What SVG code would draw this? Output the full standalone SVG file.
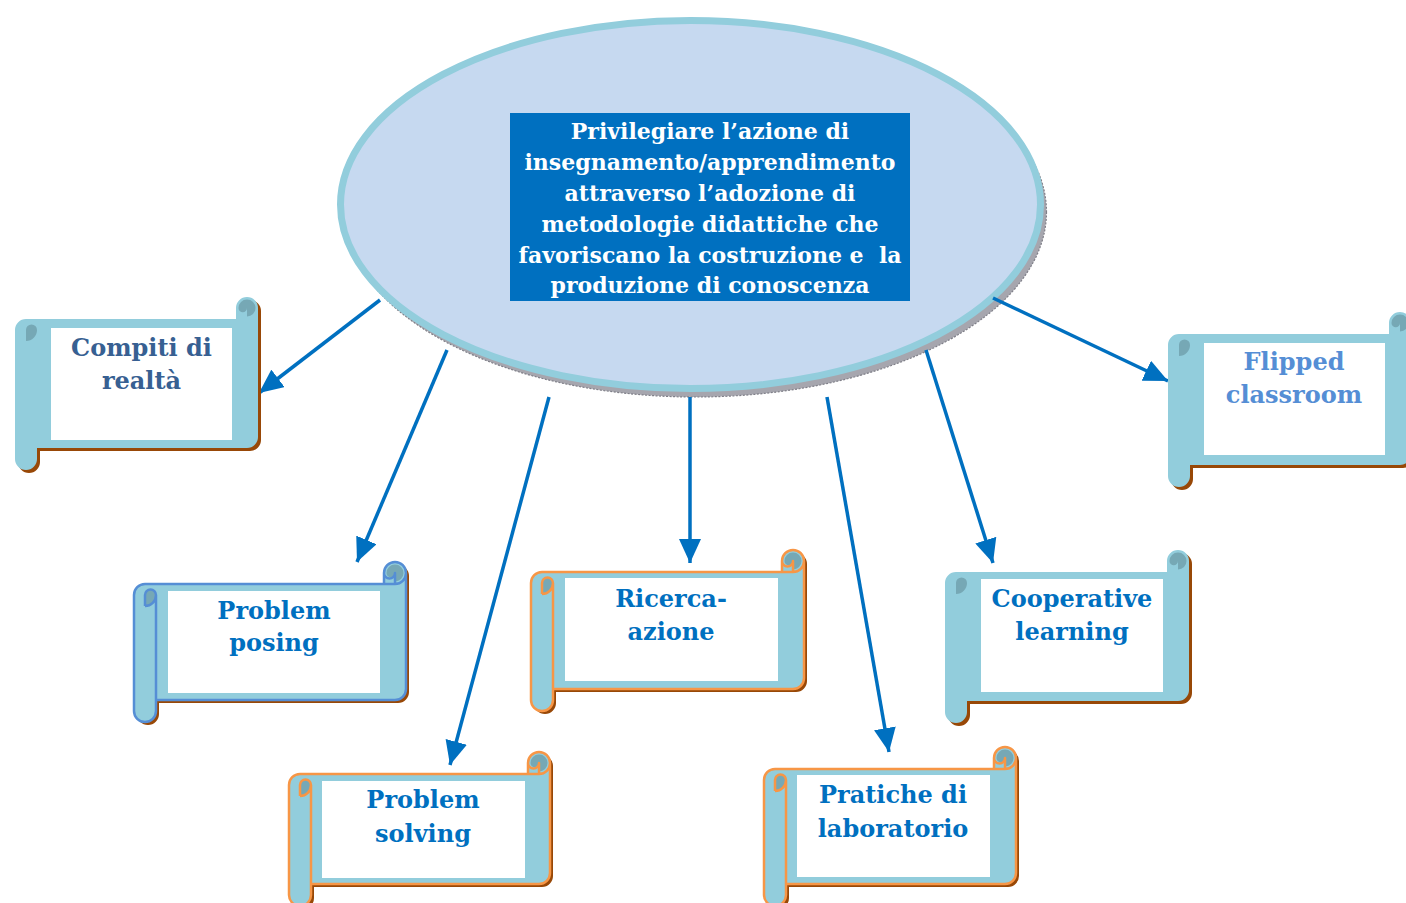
<svg xmlns="http://www.w3.org/2000/svg" width="1406" height="903" viewBox="0 0 1406 903">
<defs>
<style>
.sh{fill:#984807}
.body{fill:#92CDDC}
.dark{fill:#76A8B5}
.ob{fill:none;stroke:#558ED5;stroke-width:2.5;stroke-linejoin:round}
.oo{fill:none;stroke:#F79646;stroke-width:2.5;stroke-linejoin:round}
.inner{fill:#FFFFFF}
.lbl{font-family:"DejaVu Serif","Liberation Serif",serif;font-weight:bold;font-size:24px;text-anchor:middle;fill:#0070C0}
.main{font-family:"DejaVu Serif","Liberation Serif",serif;font-weight:bold;font-size:22px;text-anchor:middle;fill:#FFFFFF;white-space:pre}
.arr{stroke:#0070C0;stroke-width:3.5;fill:none;marker-end:url(#ah)}
</style>
<marker id="ah" viewBox="0 0 24 22" refX="24" refY="11" markerWidth="24" markerHeight="22" markerUnits="userSpaceOnUse" orient="auto">
<path d="M0,0 L24,11 L0,22 Z" fill="#0070C0"/>
</marker>
</defs>
<rect width="1406" height="903" fill="#FFFFFF"/>

<g id="center">
<ellipse cx="695.5" cy="212" rx="351" ry="185" fill="#A6A6AE" stroke="#7F7F88" stroke-width="1.2" stroke-dasharray="2 1.5"/>
<ellipse cx="690.5" cy="204.5" rx="350" ry="184" fill="#C6D9F0" stroke="#92CDDC" stroke-width="7"/>
<rect x="510" y="113" width="400" height="188" fill="#0070C0"/>
<text class="main" x="710" y="139">Privilegiare l’azione di</text>
<text class="main" x="710" y="170">insegnamento/apprendimento</text>
<text class="main" x="710" y="201">attraverso l’adozione di</text>
<text class="main" x="710" y="232">metodologie didattiche che</text>
<text class="main" x="710" y="263" xml:space="preserve">favoriscano la costruzione e  la</text>
<text class="main" x="710" y="293">produzione di conoscenza</text>
</g>

<g id="connectors">
<line class="arr" x1="380" y1="300" x2="259" y2="393"/>
<line class="arr" x1="447" y1="350" x2="357" y2="562"/>
<line class="arr" x1="549" y1="397" x2="450" y2="765"/>
<line class="arr" x1="690" y1="397" x2="690" y2="563"/>
<line class="arr" x1="827" y1="397" x2="889" y2="752"/>
<line class="arr" x1="926" y1="350" x2="993" y2="563"/>
<line class="arr" x1="993" y1="298" x2="1168" y2="381"/>
</g>

<!-- Compiti di realtà: L15 T297 W243 H173 -->
<g id="compiti" transform="translate(15,297)">
<path class="sh" transform="translate(3,3)" d="M0,33 A11,11 0 0 1 11,22 L221,22 L221,11 A11,11 0 0 1 243,11 L243,140 A11,11 0 0 1 232,151 L22,151 L22,162 A11,11 0 0 1 0,162 Z"/>
<path class="body" d="M0,33 A11,11 0 0 1 11,22 L221,22 L221,11 A11,11 0 0 1 243,11 L243,140 A11,11 0 0 1 232,151 L22,151 L22,162 A11,11 0 0 1 0,162 Z"/>
<path class="dark" d="M232,19.5 A8.5,8.5 0 1 0 223.5,11 A4.25,4.25 0 0 0 232,11 Z M11,44 A11,11 0 0 0 22,33 A5.5,5.5 0 0 0 11,33 Z"/>
<rect class="inner" x="36" y="31" width="181" height="112"/>
<text class="lbl" x="126.5" y="59" style="fill:#376092">Compiti di</text>
<text class="lbl" x="126.5" y="92" style="fill:#376092">realtà</text>
</g>

<!-- Problem posing: L134 T562 W272 H160 -->
<g id="posing" transform="translate(134,562)">
<path class="sh" transform="translate(3,3)" d="M0,33 A11,11 0 0 1 11,22 L250,22 L250,11 A11,11 0 0 1 272,11 L272,127 A11,11 0 0 1 261,138 L22,138 L22,149 A11,11 0 0 1 0,149 Z"/>
<path class="body" d="M0,33 A11,11 0 0 1 11,22 L250,22 L250,11 A11,11 0 0 1 272,11 L272,127 A11,11 0 0 1 261,138 L22,138 L22,149 A11,11 0 0 1 0,149 Z"/>
<path class="dark" d="M261,19.5 A8.5,8.5 0 1 0 252.5,11 A4.25,4.25 0 0 0 261,11 Z M11,44 A11,11 0 0 0 22,33 A5.5,5.5 0 0 0 11,33 Z"/>
<path class="ob" d="M0,33 A11,11 0 0 1 11,22 L250,22 L250,11 A11,11 0 0 1 272,11 L272,127 A11,11 0 0 1 261,138 L22,138 L22,149 A11,11 0 0 1 0,149 Z M250,22 L261,22 A11,11 0 0 0 272,11 M261,22 L261,11 A5.5,5.5 0 0 1 250,11 M11,44 L11,33 A5.5,5.5 0 0 1 22,33 A11,11 0 0 1 11,44 M22,33 L22,138"/>
<rect class="inner" x="34" y="29" width="212" height="102"/>
<text class="lbl" x="140" y="57">Problem</text>
<text class="lbl" x="140" y="89">posing</text>
</g>

<!-- Problem solving: L289 T752 W261 H154 -->
<g id="solving" transform="translate(289,752)">
<path class="sh" transform="translate(3,3)" d="M0,33 A11,11 0 0 1 11,22 L239,22 L239,11 A11,11 0 0 1 261,11 L261,121 A11,11 0 0 1 250,132 L22,132 L22,143 A11,11 0 0 1 0,143 Z"/>
<path class="body" d="M0,33 A11,11 0 0 1 11,22 L239,22 L239,11 A11,11 0 0 1 261,11 L261,121 A11,11 0 0 1 250,132 L22,132 L22,143 A11,11 0 0 1 0,143 Z"/>
<path class="dark" d="M250,19.5 A8.5,8.5 0 1 0 241.5,11 A4.25,4.25 0 0 0 250,11 Z M11,44 A11,11 0 0 0 22,33 A5.5,5.5 0 0 0 11,33 Z"/>
<path class="oo" d="M0,33 A11,11 0 0 1 11,22 L239,22 L239,11 A11,11 0 0 1 261,11 L261,121 A11,11 0 0 1 250,132 L22,132 L22,143 A11,11 0 0 1 0,143 Z M239,22 L250,22 A11,11 0 0 0 261,11 M250,22 L250,11 A5.5,5.5 0 0 1 239,11 M11,44 L11,33 A5.5,5.5 0 0 1 22,33 A11,11 0 0 1 11,44 M22,33 L22,132"/>
<rect class="inner" x="33" y="29" width="203" height="97"/>
<text class="lbl" x="134" y="56">Problem</text>
<text class="lbl" x="134" y="90">solving</text>
</g>

<!-- Ricerca-azione: L531 T550 W273 H161 -->
<g id="ricerca" transform="translate(531,550)">
<path class="sh" transform="translate(3,3)" d="M0,33 A11,11 0 0 1 11,22 L251,22 L251,11 A11,11 0 0 1 273,11 L273,128 A11,11 0 0 1 262,139 L22,139 L22,150 A11,11 0 0 1 0,150 Z"/>
<path class="body" d="M0,33 A11,11 0 0 1 11,22 L251,22 L251,11 A11,11 0 0 1 273,11 L273,128 A11,11 0 0 1 262,139 L22,139 L22,150 A11,11 0 0 1 0,150 Z"/>
<path class="dark" d="M262,19.5 A8.5,8.5 0 1 0 253.5,11 A4.25,4.25 0 0 0 262,11 Z M11,44 A11,11 0 0 0 22,33 A5.5,5.5 0 0 0 11,33 Z"/>
<path class="oo" d="M0,33 A11,11 0 0 1 11,22 L251,22 L251,11 A11,11 0 0 1 273,11 L273,128 A11,11 0 0 1 262,139 L22,139 L22,150 A11,11 0 0 1 0,150 Z M251,22 L262,22 A11,11 0 0 0 273,11 M262,22 L262,11 A5.5,5.5 0 0 1 251,11 M11,44 L11,33 A5.5,5.5 0 0 1 22,33 A11,11 0 0 1 11,44 M22,33 L22,139"/>
<rect class="inner" x="34" y="28" width="213" height="103"/>
<text class="lbl" x="140" y="57">Ricerca-</text>
<text class="lbl" x="140" y="90">azione</text>
</g>

<!-- Pratiche di laboratorio: L764 T747 W252 H159 -->
<g id="pratiche" transform="translate(764,747)">
<path class="sh" transform="translate(3,3)" d="M0,33 A11,11 0 0 1 11,22 L230,22 L230,11 A11,11 0 0 1 252,11 L252,126 A11,11 0 0 1 241,137 L22,137 L22,148 A11,11 0 0 1 0,148 Z"/>
<path class="body" d="M0,33 A11,11 0 0 1 11,22 L230,22 L230,11 A11,11 0 0 1 252,11 L252,126 A11,11 0 0 1 241,137 L22,137 L22,148 A11,11 0 0 1 0,148 Z"/>
<path class="dark" d="M241,19.5 A8.5,8.5 0 1 0 232.5,11 A4.25,4.25 0 0 0 241,11 Z M11,44 A11,11 0 0 0 22,33 A5.5,5.5 0 0 0 11,33 Z"/>
<path class="oo" d="M0,33 A11,11 0 0 1 11,22 L230,22 L230,11 A11,11 0 0 1 252,11 L252,126 A11,11 0 0 1 241,137 L22,137 L22,148 A11,11 0 0 1 0,148 Z M230,22 L241,22 A11,11 0 0 0 252,11 M241,22 L241,11 A5.5,5.5 0 0 1 230,11 M11,44 L11,33 A5.5,5.5 0 0 1 22,33 A11,11 0 0 1 11,44 M22,33 L22,137"/>
<rect class="inner" x="33" y="28" width="193" height="102"/>
<text class="lbl" x="129" y="56">Pratiche di</text>
<text class="lbl" x="129" y="90">laboratorio</text>
</g>

<!-- Cooperative learning: L945 T550 W244 H173 -->
<g id="cooperative" transform="translate(945,550)">
<path class="sh" transform="translate(3,3)" d="M0,33 A11,11 0 0 1 11,22 L222,22 L222,11 A11,11 0 0 1 244,11 L244,140 A11,11 0 0 1 233,151 L22,151 L22,162 A11,11 0 0 1 0,162 Z"/>
<path class="body" d="M0,33 A11,11 0 0 1 11,22 L222,22 L222,11 A11,11 0 0 1 244,11 L244,140 A11,11 0 0 1 233,151 L22,151 L22,162 A11,11 0 0 1 0,162 Z"/>
<path class="dark" d="M233,19.5 A8.5,8.5 0 1 0 224.5,11 A4.25,4.25 0 0 0 233,11 Z M11,44 A11,11 0 0 0 22,33 A5.5,5.5 0 0 0 11,33 Z"/>
<rect class="inner" x="36" y="29" width="182" height="113"/>
<text class="lbl" x="127" y="57">Cooperative</text>
<text class="lbl" x="127" y="90">learning</text>
</g>

<!-- Flipped classroom: L1168 T312 W243 H175 -->
<g id="flipped" transform="translate(1168,312)">
<path class="sh" transform="translate(3,3)" d="M0,33 A11,11 0 0 1 11,22 L221,22 L221,11 A11,11 0 0 1 243,11 L243,142 A11,11 0 0 1 232,153 L22,153 L22,164 A11,11 0 0 1 0,164 Z"/>
<path class="body" d="M0,33 A11,11 0 0 1 11,22 L221,22 L221,11 A11,11 0 0 1 243,11 L243,142 A11,11 0 0 1 232,153 L22,153 L22,164 A11,11 0 0 1 0,164 Z"/>
<path class="dark" d="M232,19.5 A8.5,8.5 0 1 0 223.5,11 A4.25,4.25 0 0 0 232,11 Z M11,44 A11,11 0 0 0 22,33 A5.5,5.5 0 0 0 11,33 Z"/>
<rect class="inner" x="36" y="31" width="181" height="112"/>
<text class="lbl" x="126" y="58" style="fill:#558ED5">Flipped</text>
<text class="lbl" x="126" y="91" style="fill:#558ED5">classroom</text>
</g>
</svg>
